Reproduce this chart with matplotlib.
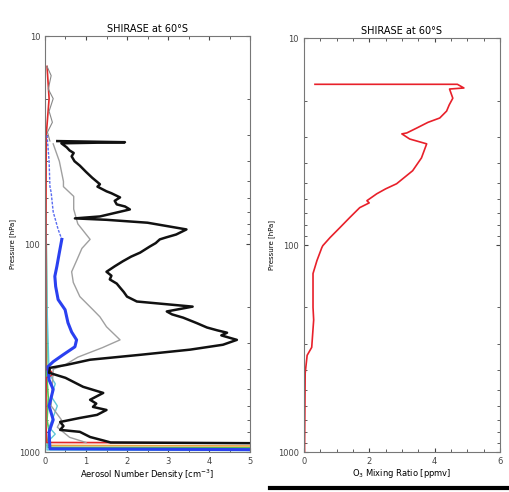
import numpy as np
import matplotlib.pyplot as plt
from matplotlib.lines import Line2D

# aerosol number density profiles (x in cm^-3, p in hPa)
black_x = [0.30, 1.95, 0.40, 0.53, 0.60, 0.70, 0.65, 0.72, 0.85, 1.00, 1.15, 1.34, 1.28, 1.50, 1.62, 1.83, 1.70,
           1.75, 1.95, 2.07, 1.34, 0.73, 1.50, 2.50, 3.45, 3.20, 2.95, 2.80, 2.70, 2.55, 2.32, 2.10, 1.90, 1.70,
           1.50, 1.62, 1.58, 1.75, 1.83, 1.92, 2.00, 2.24, 3.60, 2.97, 3.10, 3.37, 3.70, 3.95, 4.20, 4.44, 4.30,
           4.68, 4.34, 3.54, 2.32, 1.10, 0.53, 0.12, 0.10, 0.50, 0.93, 1.42, 1.10, 1.25, 1.17, 1.50, 1.27, 0.85,
           0.37, 0.45, 0.37, 0.85, 1.10, 1.42, 1.60, 5.50]
black_p = [32.0, 32.4, 32.8, 34.3, 35.5, 36.5, 37.9, 40.0, 42.0, 45.0, 48.0, 51.6, 53.0, 55.8, 57.0, 59.7, 62.0,
           64.5, 66.0, 68.2, 73.7, 75.3, 76.5, 79.0, 85.1, 90.0, 93.0, 95.0, 99.0, 103.0, 110.0, 115.0, 121.0, 128.0,
           136.0, 142.0, 148.0, 155.0, 162.0, 170.0, 179.0, 189.0, 200.0, 211.0, 218.0, 226.0, 240.0, 252.0, 260.0, 267.0, 275.0,
           289.0, 305.0, 322.0, 341.0, 360.0, 381.0, 394.0, 416.0, 440.0, 486.0, 520.0, 561.0, 585.0, 607.0, 628.0, 663.0, 686.0,
           717.0, 750.0, 783.0, 800.0, 847.0, 880.0, 900.0, 908.0]

gray_x = [0.20, 0.35, 0.45, 0.45, 0.70, 0.70, 0.80, 1.10, 0.90, 0.78, 0.65, 0.69, 0.85, 1.17, 1.34, 1.50, 1.75,
          1.83, 1.40, 0.80, 0.50, 0.20, 0.15, 0.40, 0.30, 0.60, 1.00]
gray_p = [33.0, 40.0, 50.0, 53.0, 59.0, 68.0, 80.0, 95.0, 105.0, 119.0, 136.0, 153.0, 179.0, 207.0, 224.0, 250.0, 279.0,
          289.0, 315.0, 350.0, 380.0, 400.0, 600.0, 700.0, 760.0, 850.0, 900.0]

thin_x = [0.05, 0.15, 0.08, 0.20, 0.10, 0.18, 0.06, 0.12]
thin_p = [14.0, 15.5, 18.0, 20.0, 23.0, 26.0, 29.0, 32.0]

blue_top_x = [0.05, 0.10, 0.12, 0.15, 0.20, 0.32, 0.41]
blue_top_p = [30.0, 40.0, 52.8, 56.5, 70.0, 85.0, 95.0]
blue_x = [0.41, 0.35, 0.29, 0.24, 0.26, 0.32, 0.49, 0.56, 0.65, 0.77, 0.73, 0.44, 0.20, 0.07,
          0.10, 0.20, 0.10, 0.20, 0.10, 0.12, 5.50]
blue_p = [95.0, 110.0, 128.0, 143.0, 160.0, 185.0, 207.0, 239.0, 265.0, 289.0, 312.0, 341.0, 368.0, 389.0,
          450.0, 500.0, 600.0, 700.0, 800.0, 965.0, 975.0]

cyan_x = [0.02, 0.05, 0.10, 0.25, 0.15, 0.30, 0.20, 0.10, 0.25, 0.05, 0.05, 5.50]
cyan_p = [60.0, 200.0, 420.0, 470.0, 540.0, 600.0, 680.0, 760.0, 820.0, 900.0, 978.0, 985.0]

green_x = [0.03, 0.05, 0.04, 0.08, 0.05, 0.10, 0.06, 0.06, 5.50]
green_p = [100.0, 300.0, 420.0, 550.0, 700.0, 800.0, 900.0, 950.0, 956.0]

red_x = [0.05, 0.10, 0.03, 0.02, 0.02, 0.15, 0.20, 0.03, 0.02, 0.04, 5.50]
red_p = [14.0, 20.0, 30.0, 100.0, 400.0, 410.0, 425.0, 440.0, 700.0, 900.0, 905.0]

orange_x = [0.01, 0.01, 0.02, 0.01, 0.01, 5.50]
orange_p = [40.0, 300.0, 600.0, 900.0, 930.0, 936.0]

# ozone mixing ratio (ppmv)
o3_x = [0.34, 4.70, 4.90, 4.46, 4.56, 4.45, 4.37, 4.16, 3.80, 3.45, 3.15, 3.00, 3.24, 3.76, 3.60, 3.33, 2.84,
        2.50, 2.23, 1.93, 2.00, 1.71, 1.40, 1.10, 0.80, 0.58, 0.55, 0.40, 0.28, 0.28, 0.30, 0.24, 0.10, 0.04, 0.02]
o3_p = [16.7, 16.7, 17.4, 17.6, 19.5, 21.0, 22.5, 24.3, 25.5, 27.2, 28.7, 29.0, 30.7, 32.4, 37.9, 43.7, 50.5,
        53.5, 56.5, 61.0, 62.5, 65.9, 73.7, 82.4, 92.0, 100.6, 102.8, 118.8, 137.2, 200.0, 230.0, 312.0, 341.0, 416.0, 1000.0]

title = 'SHIRASE at 60°S'

fig = plt.figure(figsize=(5.09, 4.92), dpi=100)
ax1 = fig.add_axes([0.0884, 0.0813, 0.4028, 0.8455])
ax2 = fig.add_axes([0.597, 0.0813, 0.385, 0.841])

ax1.plot(orange_x, orange_p, color='#e8a040', lw=1.2)
ax1.plot(green_x, green_p, color='#55c055', lw=1.2)
ax1.plot(cyan_x, cyan_p, color='#60c8d8', lw=1.0)
ax1.plot(red_x, red_p, color='#e02828', lw=1.2)
ax1.plot(thin_x, thin_p, color='#888888', lw=0.8)
ax1.plot(gray_x, gray_p, color='#a0a0a0', lw=1.0)
ax1.plot(blue_top_x, blue_top_p, color='#5a6cf0', lw=1.0, ls=(0, (2, 1)))
ax1.plot(blue_x, blue_p, color='#2a40f0', lw=2.2)
ax1.plot(black_x, black_p, color='#111111', lw=1.8)
ax1.set_xlim(0, 5)
ax1.set_xticks(np.arange(0, 6, 1))
ax1.set_xticks(np.arange(0, 5.01, 0.5), minor=True)
ax1.set_xlabel('Aerosol Number Density [cm$^{-3}$]', fontsize=6, labelpad=1)

ax2.plot(o3_x, o3_p, color='#e8202a', lw=1.2)
ax2.set_xlim(0, 6)
ax2.set_xticks([0, 2, 4, 6])
ax2.set_xticks(np.arange(0, 6.01, 0.5), minor=True)
ax2.set_xlabel('O$_3$ Mixing Ratio [ppmv]', fontsize=6, labelpad=1)

for ax in (ax1, ax2):
    ax.set_yscale('log')
    ax.set_ylim(1000, 10)
    ax.set_yticks([10, 100, 1000])
    ax.set_yticklabels(['10', '100', '1000'])
    ax.set_title(title, fontsize=7, pad=3)
    ax.set_ylabel('Pressure [hPa]', fontsize=5, labelpad=2)
    ax.tick_params(which='both', direction='in', top=True, right=True, labelsize=6, colors='#444444', length=3)
    ax.tick_params(which='minor', length=2)
    for s in ax.spines.values():
        s.set_color('#777777')

fig.add_artist(Line2D([0.53, 1.0], [0.008, 0.008], color='black', lw=3))

plt.savefig('out.png', dpi=100)
